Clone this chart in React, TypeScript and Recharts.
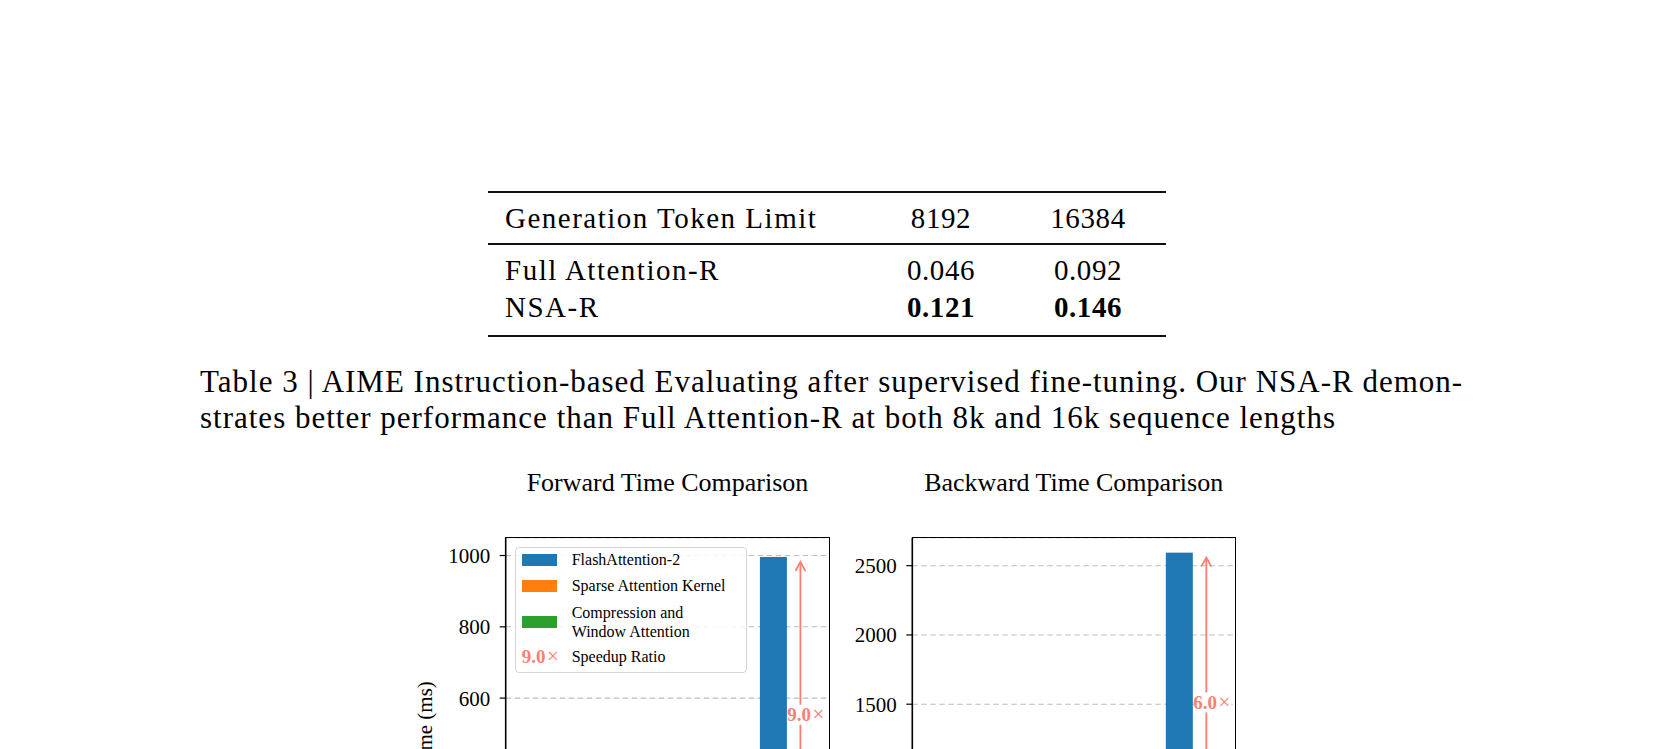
import React from 'react'
import { BarChart, Bar, XAxis, YAxis, CartesianGrid, Legend } from 'recharts'

// table 3
const tableHeader = ['Generation Token Limit', '8192', '16384']
const fullAttnRow = ['Full Attention-R', '0.046', '0.092']
const nsaRow = ['NSA-R', '0.121', '0.146']
const captionLines = [
  'Table 3 | AIME Instruction-based Evaluating after supervised fine-tuning. Our NSA-R demon-',
  'strates better performance than Full Attention-R at both 8k and 16k sequence lengths',
]

// figure: kernel timing
const seqLengths = ['8K', '16K', '32K', '64K']
const fwdFlash = [18, 66, 252, 996]
const fwdSparse = [5.1, 10.2, 24.0, 66.0]
const fwdCompWin = [3.5, 7.2, 16.0, 44.7]
const fwdSpeedup = ['2.1', '3.8', '6.3', '9.0']
const fwdTicks = [0, 200, 400, 600, 800, 1000]

const bwdFlash = [46, 172, 668, 2594]
const bwdSparse = [26, 55, 128, 290]
const bwdCompWin = [16, 31, 68, 142]
const bwdSpeedup = ['1.1', '2.0', '3.4', '6.0']
const bwdTicks = [0, 500, 1000, 1500, 2000, 2500]

const legendLabels = ['FlashAttention-2', 'Sparse Attention Kernel', 'Compression and\nWindow Attention']
const speedupLabel = 'Speedup Ratio'

const FLASH = '#1f77b4'
const SPARSE = '#ff7f0e'
const COMP = '#2ca02c'
const SALMON = '#fa8072'
const legendColors = [FLASH, SPARSE, COMP]

const serif = '"Liberation Serif", "Times New Roman", serif'

const buildRows = (flash: number[], sparse: number[], comp: number[], speedup: string[]) =>
  seqLengths.map((len, i) => ({ len, flash: flash[i], sparse: sparse[i], comp: comp[i], speedup: speedup[i] }))

const fwdRows = buildRows(fwdFlash, fwdSparse, fwdCompWin, fwdSpeedup)
const bwdRows = buildRows(bwdFlash, bwdSparse, bwdCompWin, bwdSpeedup)

// blue bar + the speedup arrow that sits over the neighbouring NSA bar
const flashShape = (props: any) => {
  const { x, y, width, height, payload } = props
  const perUnit = height / payload.flash
  const base = y + height
  const nsaTop = base - (payload.sparse + payload.comp) * perUnit
  const ax = x + width * 1.5
  const tip = y + 5
  const mid = (y + nsaTop) / 2
  return (
    <g>
      <rect x={x} y={y} width={width} height={height} fill={FLASH} />
      <line x1={ax} y1={nsaTop - 4} x2={ax} y2={tip} stroke={SALMON} strokeWidth={1.8} />
      <polyline
        points={`${ax - 5},${tip + 9} ${ax},${tip} ${ax + 5},${tip + 9}`}
        fill="none"
        stroke={SALMON}
        strokeWidth={1.8}
      />
      <rect x={ax - 12} y={mid - 10} width={37} height={20} fill="#fff" />
      <text
        x={ax + 5.5}
        y={mid}
        dy="0.34em"
        textAnchor="middle"
        fontFamily={serif}
        fontSize={19}
        fontWeight="bold"
        fill={SALMON}
      >
        {payload.speedup}
        <tspan fontWeight="normal" fontSize={21} dx={1.5}>×</tspan>
      </text>
    </g>
  )
}

const rowHeights = [24.2, 27.6, 46, 22.4]

function LegendBox() {
  return (
    <div
      style={{
        boxSizing: 'border-box',
        width: '100%',
        height: '100%',
        border: '1px solid #d6d6d6',
        borderRadius: 4,
        background: 'rgba(255,255,255,0.85)',
        fontFamily: serif,
        fontSize: 16,
        color: '#000',
      }}
    >
      {legendLabels.map((label, i) => (
        <div key={label} style={{ display: 'flex', alignItems: 'center', height: rowHeights[i] }}>
          <span style={{ marginLeft: 5.7, width: 35, height: 12, background: legendColors[i] }} />
          <span style={{ marginLeft: 15, lineHeight: '19px', whiteSpace: 'pre-line' }}>{label}</span>
        </div>
      ))}
      <div style={{ display: 'flex', alignItems: 'center', height: rowHeights[3] }}>
        <span style={{ marginLeft: 5.7, width: 42, color: SALMON, fontSize: 19, whiteSpace: 'nowrap' }}>
          <b>{fwdSpeedup[3]}</b>
          <span style={{ marginLeft: 1.5, fontSize: 21 }}>×</span>
        </span>
        <span style={{ marginLeft: 8 }}>{speedupLabel}</span>
      </div>
    </div>
  )
}

interface TimeChartProps {
  title: string
  rows: ReturnType<typeof buildRows>
  ticks: number[]
  yMax: number
  left: number
  yAxisWidth: number
  rightMargin: number
  withLegend?: boolean
  yLabel?: string
}

const CHART_W = 480
const CHART_H = 540
const TOP_M = 97.7
const BOTTOM_M = 38
const XAXIS_H = 30

function TimeChart({ title, rows, ticks, yMax, left, yAxisWidth, rightMargin, withLegend, yLabel }: TimeChartProps) {
  const plotWidth = CHART_W - yAxisWidth - rightMargin
  const plotHeight = CHART_H - TOP_M - BOTTOM_M - XAXIS_H
  return (
    <div style={{ position: 'absolute', left, top: 440 }}>
      <div
        style={{
          position: 'absolute',
          left: yAxisWidth,
          top: 30.2,
          width: plotWidth,
          textAlign: 'center',
          fontFamily: serif,
          fontSize: 26,
          lineHeight: '26px',
          whiteSpace: 'nowrap',
        }}
      >
        {title}
      </div>
      <BarChart
        width={CHART_W}
        height={CHART_H}
        data={rows}
        margin={{ top: TOP_M, right: rightMargin, bottom: BOTTOM_M, left: 0 }}
        barGap={0}
      >
        <CartesianGrid vertical={false} stroke="#bdbdbd" strokeWidth={1.1} strokeDasharray="5.5 3.5" />
        <XAxis
          dataKey="len"
          padding={{ left: 3, right: 3 }}
          height={XAXIS_H}
          tick={{ fontFamily: serif, fontSize: 21, fill: '#000' }}
          tickLine={{ stroke: '#000' }}
          axisLine={{ stroke: '#000', strokeWidth: 1.6 }}
        />
        <YAxis
          type="number"
          width={yAxisWidth}
          domain={[0, yMax]}
          ticks={ticks}
          interval={0}
          allowDataOverflow
          tickSize={6}
          tickMargin={9.5}
          tick={{ fontFamily: serif, fontSize: 21, fill: '#000' }}
          tickLine={{ stroke: '#000', strokeWidth: 1.2 }}
          axisLine={{ stroke: '#000', strokeWidth: 1.6 }}
          label={
            yLabel
              ? {
                  content: (p: any) => {
                    const vb = p.viewBox
                    const cx = vb.x + 45
                    const cy = vb.y + vb.height / 2
                    return (
                      <text x={cx} y={cy} transform={`rotate(-90, ${cx}, ${cy})`} textAnchor="middle"
                        dy="0.34em" fontFamily={serif} fontSize={21} fill="#000">
                        {yLabel}
                      </text>
                    )
                  },
                }
              : undefined
          }
        />
        <Bar dataKey="flash" stackId="fa" fill={FLASH} barSize={27} isAnimationActive={false} shape={flashShape} />
        <Bar dataKey="sparse" stackId="nsa" fill={SPARSE} barSize={27} isAnimationActive={false} />
        <Bar dataKey="comp" stackId="nsa" fill={COMP} barSize={27} isAnimationActive={false} />
        {withLegend && (
          <Legend
            layout="horizontal"
            verticalAlign="middle"
            align="center"
            wrapperStyle={{ left: 135, top: 106.7, width: 232, height: 126.3 }}
            content={() => <LegendBox />}
          />
        )}
      </BarChart>
      {/* axes box (matplotlib spines) */}
      <div
        style={{
          position: 'absolute',
          left: yAxisWidth - 0.8,
          top: TOP_M - 0.8,
          width: plotWidth,
          height: plotHeight,
          border: '1.6px solid #000',
          pointerEvents: 'none',
        }}
      />
    </div>
  )
}

const tableBaselineTops = [203.7, 255.7, 292.7]
const tableCols = [505, 941, 1088]

function TableText({ row, top, bold }: { row: string[]; top: number; bold?: boolean }) {
  const base: React.CSSProperties = {
    position: 'absolute',
    top,
    fontSize: 29,
    lineHeight: '29px',
    letterSpacing: 1.5,
    whiteSpace: 'nowrap',
  }
  return (
    <>
      <div style={{ ...base, left: tableCols[0] }}>{row[0]}</div>
      {row.slice(1).map((cell, i) => (
        <div
          key={cell}
          style={{ ...base, left: tableCols[i + 1] - 100, width: 200, textAlign: 'center', letterSpacing: 0.6, fontWeight: bold ? 'bold' : 'normal' }}
        >
          {cell}
        </div>
      ))}
    </>
  )
}

export default function App() {
  return (
    <div
      style={{
        position: 'absolute',
        left: 0,
        top: 0,
        width: 1654,
        height: 749,
        overflow: 'hidden',
        background: '#fff',
        fontFamily: serif,
        color: '#000',
      }}
    >
      <div style={{ position: 'absolute', left: 488, top: 190.7, width: 678, height: 2, background: '#111' }} />
      <div style={{ position: 'absolute', left: 488, top: 243.4, width: 678, height: 1.3, background: '#111' }} />
      <div style={{ position: 'absolute', left: 488, top: 334.7, width: 678, height: 2, background: '#111' }} />
      <TableText row={tableHeader} top={tableBaselineTops[0]} />
      <TableText row={fullAttnRow} top={tableBaselineTops[1]} />
      <TableText row={nsaRow} top={tableBaselineTops[2]} bold />

      {captionLines.map((line, i) => (
        <div
          key={i}
          style={{
            position: 'absolute',
            left: 200,
            top: 365.7 + i * 36.3,
            fontSize: 31,
            lineHeight: '31px',
            letterSpacing: 1.0,
            whiteSpace: 'nowrap',
          }}
        >
          {line}
        </div>
      ))}

      <TimeChart
        title="Forward Time Comparison"
        rows={fwdRows}
        ticks={fwdTicks}
        yMax={1050}
        left={380}
        yAxisWidth={125.7}
        rightMargin={30.7}
        withLegend
        yLabel="Time (ms)"
      />
      <TimeChart
        title="Backward Time Comparison"
        rows={bwdRows}
        ticks={bwdTicks}
        yMax={2702}
        left={790}
        yAxisWidth={122.3}
        rightMargin={35}
      />
    </div>
  )
}
